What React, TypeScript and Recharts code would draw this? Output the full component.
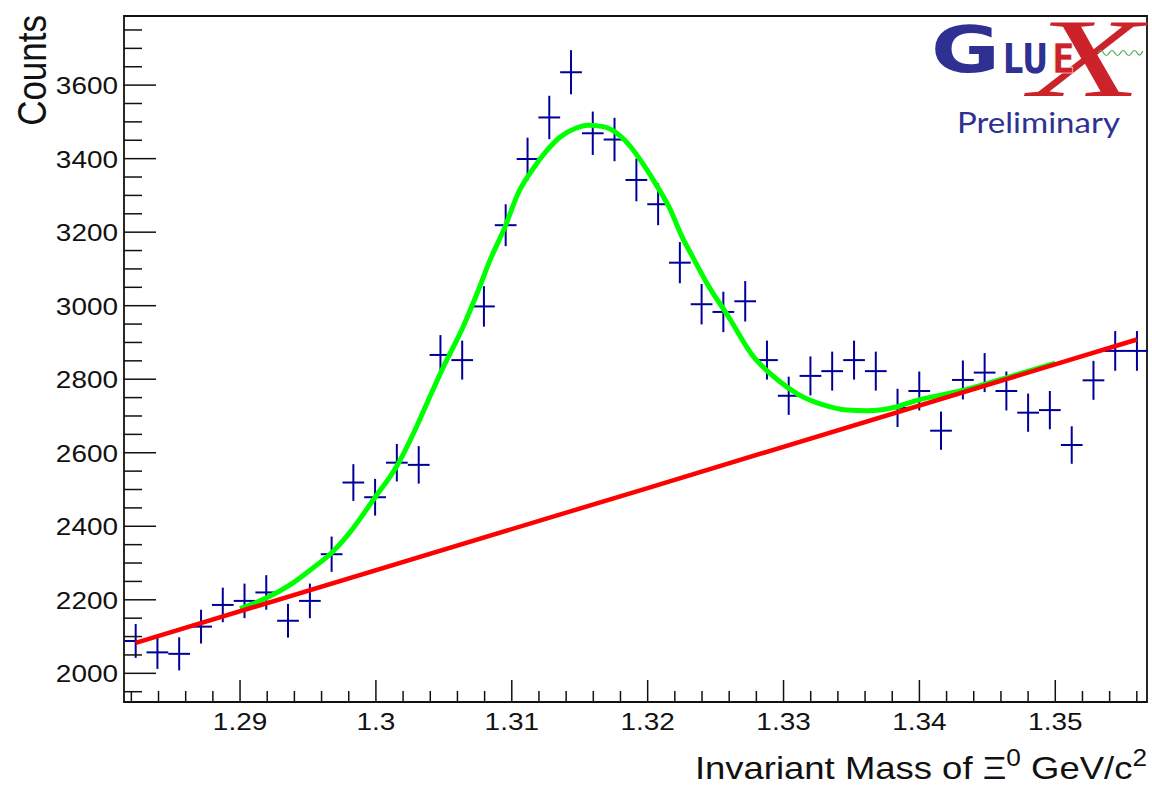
import React from 'react';
import { ComposedChart, XAxis, YAxis, Scatter, Line, ErrorBar, ReferenceArea } from 'recharts';

// Histogram bin centres (GeV/c^2) and counts with their errors
const massBins = [
  1.28232, 1.28392, 1.28552, 1.28713, 1.28873, 1.29033, 1.29193, 1.29353, 1.29514, 1.29674,
  1.29834, 1.29994, 1.30154, 1.30315, 1.30475, 1.30635, 1.30795, 1.30955, 1.31116, 1.31276,
  1.31436, 1.31596, 1.31756, 1.31917, 1.32077, 1.32237, 1.32397, 1.32557, 1.32718, 1.32878,
  1.33038, 1.33198, 1.33358, 1.33519, 1.33679, 1.33839, 1.33999, 1.34159, 1.34320, 1.34480,
  1.34640, 1.34800, 1.34960, 1.35121, 1.35281, 1.35441, 1.35601,
];
const counts = [
  2088, 2057, 2053, 2127, 2186, 2197, 2220, 2143, 2197, 2324,
  2519, 2479, 2573, 2567, 2866, 2852, 2998, 3219, 3399, 3512,
  3635, 3469, 3452, 3342, 3276, 3117, 3004, 2983, 3012, 2852,
  2755, 2809, 2822, 2852, 2822, 2722, 2768, 2660, 2798, 2818,
  2768, 2709, 2716, 2621, 2797, 2877, 2877,
];
const countErrors = [
  46, 45, 45, 46, 47, 47, 47, 46, 47, 48,
  50, 50, 51, 51, 54, 53, 55, 57, 58, 59,
  60, 59, 59, 58, 57, 56, 55, 55, 55, 53,
  52, 53, 53, 53, 53, 52, 53, 52, 53, 53,
  53, 52, 52, 51, 53, 54, 54,
];
const binHalfWidth = 0.0008;

// Total fit (signal + background)
const totalFitMass = [
  1.29000, 1.29201, 1.29373, 1.29520, 1.29680, 1.29797, 1.29981, 1.30165, 1.30288, 1.30406,
  1.30509, 1.30642, 1.30745, 1.30840, 1.30951, 1.31047, 1.31150, 1.31260, 1.31356, 1.31466,
  1.31562, 1.31672, 1.31798, 1.31886, 1.31967, 1.32068, 1.32166, 1.32247, 1.32335, 1.32438,
  1.32595, 1.32769, 1.32951, 1.33098, 1.33294, 1.33467, 1.33614, 1.33835, 1.33957, 1.34325,
  1.34644, 1.35000,
];
const totalFitCounts = [
  2176, 2206, 2242, 2282, 2330, 2378, 2472, 2571, 2662, 2760,
  2843, 2943, 3034, 3124, 3215, 3306, 3369, 3423, 3459, 3482,
  3491, 3487, 3462, 3427, 3385, 3326, 3262, 3192, 3130, 3060,
  2970, 2866, 2800, 2761, 2730, 2716, 2714, 2725, 2740, 2770,
  2804, 2844,
];

// Background fit
const bkgFitMass = [1.28232, 1.32, 1.35601];
const bkgFitCounts = [2083, 2504, 2908];

// Axes
const X_MIN = 1.28146;
const X_MAX = 1.35675;
const Y_MIN = 1922;
const Y_MAX = 3788;
const xMajorTicks = [1.29, 1.3, 1.31, 1.32, 1.33, 1.34, 1.35];
const xTickLabels = ['1.29', '1.3', '1.31', '1.32', '1.33', '1.34', '1.35'];
const yMajorTicks = [2000, 2200, 2400, 2600, 2800, 3000, 3200, 3400, 3600];
const yTickLabels = ['2000', '2200', '2400', '2600', '2800', '3000', '3200', '3400', '3600'];

const xAllTicks: number[] = [];
for (let k = 1282; k <= 1356; k += 2) xAllTicks.push(k / 1000);
const yAllTicks: number[] = [];
for (let k = 1950; k <= 3750; k += 50) yAllTicks.push(k);

const points = massBins.map((m, i) => ({ x: m, y: counts[i], ey: countErrors[i], ex: binHalfWidth }));
const totalFit = totalFitMass.map((m, i) => ({ x: m, v: totalFitCounts[i] }));
const bkgFit = bkgFitMass.map((m, i) => ({ x: m, v: bkgFitCounts[i] }));

const AXIS_FONT = '"Liberation Sans", Arial, Helvetica, sans-serif';
const INK = '#111';
const STRETCH = 1.14;
const PLOT_LEFT = 124;
const PLOT_BOTTOM = 702;

const renderXTick = (props: any) => {
  const { x, payload } = props;
  const y = PLOT_BOTTOM;
  const v = payload.value;
  const idx = xMajorTicks.findIndex((t) => Math.abs(t - v) < 1e-6);
  const major = idx >= 0;
  return (
    <g key={`xt-${v}`}>
      <line x1={x} x2={x} y1={y} y2={y - (major ? 22 : 11)} stroke={INK} strokeWidth={1.5} />
      {major && (
        <text
          transform={`translate(${x},${y + 28}) scale(${STRETCH},1)`}
          textAnchor="middle"
          fontFamily={AXIS_FONT}
          fontSize={24.5}
          fill={INK}
        >
          {xTickLabels[idx]}
        </text>
      )}
    </g>
  );
};

const renderYTick = (props: any) => {
  const { y, payload } = props;
  const x = PLOT_LEFT;
  const v = payload.value;
  const idx = yMajorTicks.findIndex((t) => Math.abs(t - v) < 1e-6);
  const major = idx >= 0;
  return (
    <g key={`yt-${v}`}>
      <line x1={x} x2={x + (major ? 32 : 18)} y1={y} y2={y} stroke={INK} strokeWidth={1.5} />
      {major && (
        <text
          transform={`translate(${x - 6},${y + 9}) scale(${STRETCH},1)`}
          textAnchor="end"
          fontFamily={AXIS_FONT}
          fontSize={24.5}
          fill={INK}
        >
          {yTickLabels[idx]}
        </text>
      )}
    </g>
  );
};

const EmptyShape = () => <g />;

const Logo = () => (
  <svg
    width={1152}
    height={785}
    style={{ position: 'absolute', left: 0, top: 0, pointerEvents: 'none' }}
  >
    <text x={931} y={72} fontFamily='"DejaVu Sans", sans-serif' fontWeight="bold" fontSize={64} fill="#2e3192" textLength={69} lengthAdjust="spacingAndGlyphs">G</text>
    <text x={1003} y={73} fontFamily='"DejaVu Sans", sans-serif' fontWeight="bold" fontSize={41} fill="#2e3192" textLength={45} lengthAdjust="spacingAndGlyphs">LU</text>
    <text x={1030} y={96} fontFamily='"Liberation Serif", "DejaVu Serif", serif' fontStyle="italic" fontSize={112} fill="#cc2229" textLength={112} lengthAdjust="spacingAndGlyphs">X</text>
    <text x={1052} y={73} fontFamily='"DejaVu Sans", sans-serif' fontWeight="bold" fontSize={41} fill="#cc2229" stroke="#fff" strokeWidth={0.6} textLength={23} lengthAdjust="spacingAndGlyphs">E</text>
    <path d="M1098,53 q2.8,-5 5.6,0 t5.6,0 t5.6,0 t5.6,0 t5.6,0 t5.6,0 t5.6,0 t5.6,-2" fill="none" stroke="#4aa64a" strokeWidth={1.2} />
    <text x={957} y={133} fontFamily='Lato, "Open Sans", sans-serif' fontSize={29} fill="#2e3192" textLength={163} lengthAdjust="spacingAndGlyphs">Preliminary</text>
  </svg>
);

export default function App() {
  return (
    <div style={{ position: 'absolute', left: 0, top: 0, width: 1152, height: 785, background: '#fff' }}>
      <ComposedChart
        width={1152}
        height={785}
        margin={{ top: 16, right: 5, bottom: 43, left: 64 }}
        style={{ background: '#fff' }}
      >
        <XAxis
          dataKey="x"
          type="number"
          domain={[X_MIN, X_MAX]}
          allowDataOverflow
          ticks={xAllTicks}
          interval={0}
          height={40}
          tickSize={0}
          tickMargin={0}
          tickLine={false}
          axisLine={false}
          tick={renderXTick}
        />
        <YAxis
          type="number"
          domain={[Y_MIN, Y_MAX]}
          allowDataOverflow
          ticks={yAllTicks}
          interval={0}
          width={60}
          tickSize={0}
          tickMargin={0}
          tickLine={false}
          axisLine={false}
          tick={renderYTick}
        />
        <Scatter data={points} dataKey="y" shape={EmptyShape} isAnimationActive={false}>
          <ErrorBar dataKey="ey" direction="y" width={0} stroke="#000099" strokeWidth={2} isAnimationActive={false} />
          <ErrorBar dataKey="ex" direction="x" width={0} stroke="#000099" strokeWidth={2} isAnimationActive={false} />
        </Scatter>
        <Line data={totalFit} dataKey="v" type="monotone" stroke="#00ff00" strokeWidth={5} dot={false} activeDot={false} isAnimationActive={false} />
        <Line data={bkgFit} dataKey="v" type="linear" stroke="#ff0000" strokeWidth={4.5} dot={false} activeDot={false} isAnimationActive={false} />
        <ReferenceArea x1={X_MIN} x2={X_MAX} y1={Y_MIN} y2={Y_MAX} fill="none" stroke={INK} strokeWidth={1.8} ifOverflow="visible" />
        <text
          transform={`translate(46,15) scale(${STRETCH},1) rotate(-90)`}
          textAnchor="end"
          fontFamily={AXIS_FONT}
          fontSize={35}
          fill={INK}
        >
          Counts
        </text>
        <text
          transform={`translate(1147,779) scale(${STRETCH},1)`}
          textAnchor="end"
          fontFamily={AXIS_FONT}
          fontSize={32}
          fill={INK}
        >
          Invariant Mass of Ξ<tspan dy={-13} fontSize={23}>0</tspan>
          <tspan dy={13}> GeV/c</tspan>
          <tspan dy={-13} fontSize={23}>2</tspan>
        </text>
      </ComposedChart>
      <Logo />
    </div>
  );
}
